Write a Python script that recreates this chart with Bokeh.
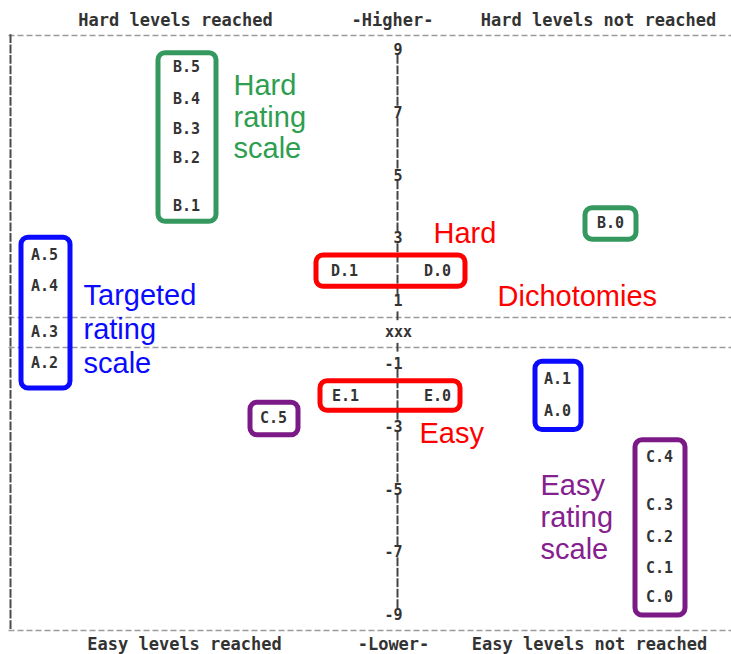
from bokeh.plotting import figure
from bokeh.models import Range1d, ColumnDataSource
from bokeh.core.properties import value
from bokeh.embed import file_html
from bokeh.resources import INLINE

# ---------------- data (item measures, logits) ----------------
A_left_labels = ["A.5", "A.4", "A.3", "A.2"]
A_left_vals = [2.45, 1.45, 0.0, -1.0]
A_right_labels = ["A.1", "A.0"]
A_right_vals = [-1.50, -2.52]
B_left_labels = ["B.5", "B.4", "B.3", "B.2", "B.1"]
B_left_vals = [8.41, 7.42, 6.46, 5.51, 4.01]
B_right_labels = ["B.0"]
B_right_vals = [3.44]
C_left_labels = ["C.5"]
C_left_vals = [-2.77]
C_right_labels = ["C.4", "C.3", "C.2", "C.1", "C.0"]
C_right_vals = [-4.01, -5.54, -6.56, -7.52, -8.47]
D_labels = ["D.1", "D.0"]
D_vals = [1.94, 1.94]
E_labels = ["E.1", "E.0"]
E_vals = [-2.04, -2.04]

tick_vals = [9, 7, 5, 3, 1, -1, -3, -5, -7, -9]
tick_labels = ["9", "7", "5", "3", "1", "-1", "-3", "-5", "-7", "-9"]

header_labels = ["Hard levels reached", "-Higher-", "Hard levels not reached"]
footer_labels = ["Easy levels reached", "-Lower-", "Easy levels not reached"]

# ---------------- layout helpers ----------------
S = 31.4      # pixels per logit
Y0 = 331      # pixel row of logit 0


def ypx(py):
    return (Y0 - py) / S


AXIS_X = 397
EDGE_X = 10
MONO = value("DejaVu Sans Mono")
SANS = value("Liberation Sans")
INK = "#333333"

GREEN_BOX = "#34985f"
GREEN_TXT = "#2e9e50"
BLUE = "#0a0aff"
RED = "#ff0000"
PURPLE_BOX = "#7b1a87"
PURPLE_TXT = "#86208f"

p = figure(width=731, height=654, x_range=Range1d(0, 731),
           y_range=Range1d(ypx(654), ypx(0)),
           output_backend="svg", toolbar_location=None, min_border=0)
p.axis.visible = False
p.grid.visible = False
p.outline_line_color = None
p.background_fill_color = "white"
p.border_fill_color = "white"

# ---------------- dashed horizontal separators ----------------
for yy in [ypx(35), ypx(317), ypx(347), ypx(630)]:
    p.line(x=[8, 731], y=[yy, yy], line_color="#9a9a9a", line_width=1.5,
           line_dash="6 3")

# ---------------- central axis bars ----------------
rows = [9 - k / 3 for k in range(0, 25)] + [0.5, -0.5] + [-1 - k / 3 for k in range(0, 25)]
labelled = set(tick_vals) | {0}
bars = [r for r in rows if all(abs(r - t) > 0.05 for t in labelled)]
h = 0.14
p.segment(x0=[AXIS_X] * len(bars), x1=[AXIS_X] * len(bars),
          y0=[b - h for b in bars], y1=[b + h for b in bars],
          line_color="#444444", line_width=2)

# left edge
edge_rows = [9.33 - k / 3 for k in range(0, 57)]
p.segment(x0=[EDGE_X] * len(edge_rows), x1=[EDGE_X] * len(edge_rows),
          y0=[b - h for b in edge_rows], y1=[b + h for b in edge_rows],
          line_color="#4a4a4a", line_width=2)

# tick labels
p.text(x=[AXIS_X + 5] * len(tick_vals), y=tick_vals, text=tick_labels,
       text_font=MONO, text_font_style="bold", text_font_size="15px",
       text_align="right", text_baseline="middle", text_color=INK)
p.text(x=[AXIS_X + 1], y=[0], text=["xxx"], text_font=MONO, text_font_style="bold",
       text_font_size="15px", text_align="center", text_baseline="middle",
       text_color=INK)

# headers / footers
hx = [175, 392, 598]
fx = [184, 393, 589]
p.text(x=hx, y=[ypx(19)] * 3, text=header_labels, text_font=MONO,
       text_font_style="bold", text_font_size="17px", text_align="center",
       text_baseline="middle", text_color=INK)
p.text(x=fx, y=[ypx(643)] * 3, text=footer_labels, text_font=MONO,
       text_font_style="bold", text_font_size="17px", text_align="center",
       text_baseline="middle", text_color=INK)

# ---------------- item groups ----------------
# (labels, values, label x-positions, box left, box right, colour, pad_top, pad_bottom)
groups = [
    (A_left_labels, A_left_vals, [44], 20.5, 69.5, BLUE, 0.55, 0.8),
    (B_left_labels, B_left_vals, [186], 157.5, 215.5, GREEN_BOX, 0.47, 0.5),
    (B_right_labels, B_right_vals, [610], 584.5, 635.5, GREEN_BOX, 0.5, 0.5),
    (A_right_labels, A_right_vals, [557], 534.5, 580.5, BLUE, 0.55, 0.6),
    (C_left_labels, C_left_vals, [273], 249.5, 297.5, PURPLE_BOX, 0.52, 0.52),
    (C_right_labels, C_right_vals, [659], 634.5, 684.5, PURPLE_BOX, 0.56, 0.56),
    (D_labels, D_vals, [344, 437], 315.5, 464.5, RED, 0.5, 0.5),
    (E_labels, E_vals, [345, 437], 319.5, 459.5, RED, 0.47, 0.47),
]

for labels, vals, xs, left, right, col, pt, pb in groups:
    if len(xs) == 1:
        xs = xs * len(labels)
    p.quad(left=[left], right=[right], top=[max(vals) + pt],
           bottom=[min(vals) - pb], fill_color=None, line_color=col,
           line_width=5, border_radius=7)
    src = ColumnDataSource(dict(x=xs, y=vals, t=labels))
    p.text(x="x", y="y", text="t", source=src, text_font=MONO,
           text_font_style="bold", text_font_size="15px", text_align="center",
           text_baseline="middle", text_color=INK)

# ---------------- annotations ----------------
annots = [
    (233, [84, 116, 147], ["Hard", "rating", "scale"], GREEN_TXT),
    (83, [294, 328, 362], ["Targeted", "rating", "scale"], BLUE),
    (433, [232], ["Hard"], RED),
    (497, [295], ["Dichotomies"], RED),
    (419, [432], ["Easy"], RED),
    (540, [484, 516, 548], ["Easy", "rating", "scale"], PURPLE_TXT),
]
for ax, ys, txts, col in annots:
    p.text(x=[ax] * len(ys), y=[ypx(v) for v in ys], text=txts,
           text_font=SANS, text_font_size="29px", text_align="left",
           text_baseline="alphabetic", text_color=col)

open("out.html", "w").write(file_html(p, INLINE))
